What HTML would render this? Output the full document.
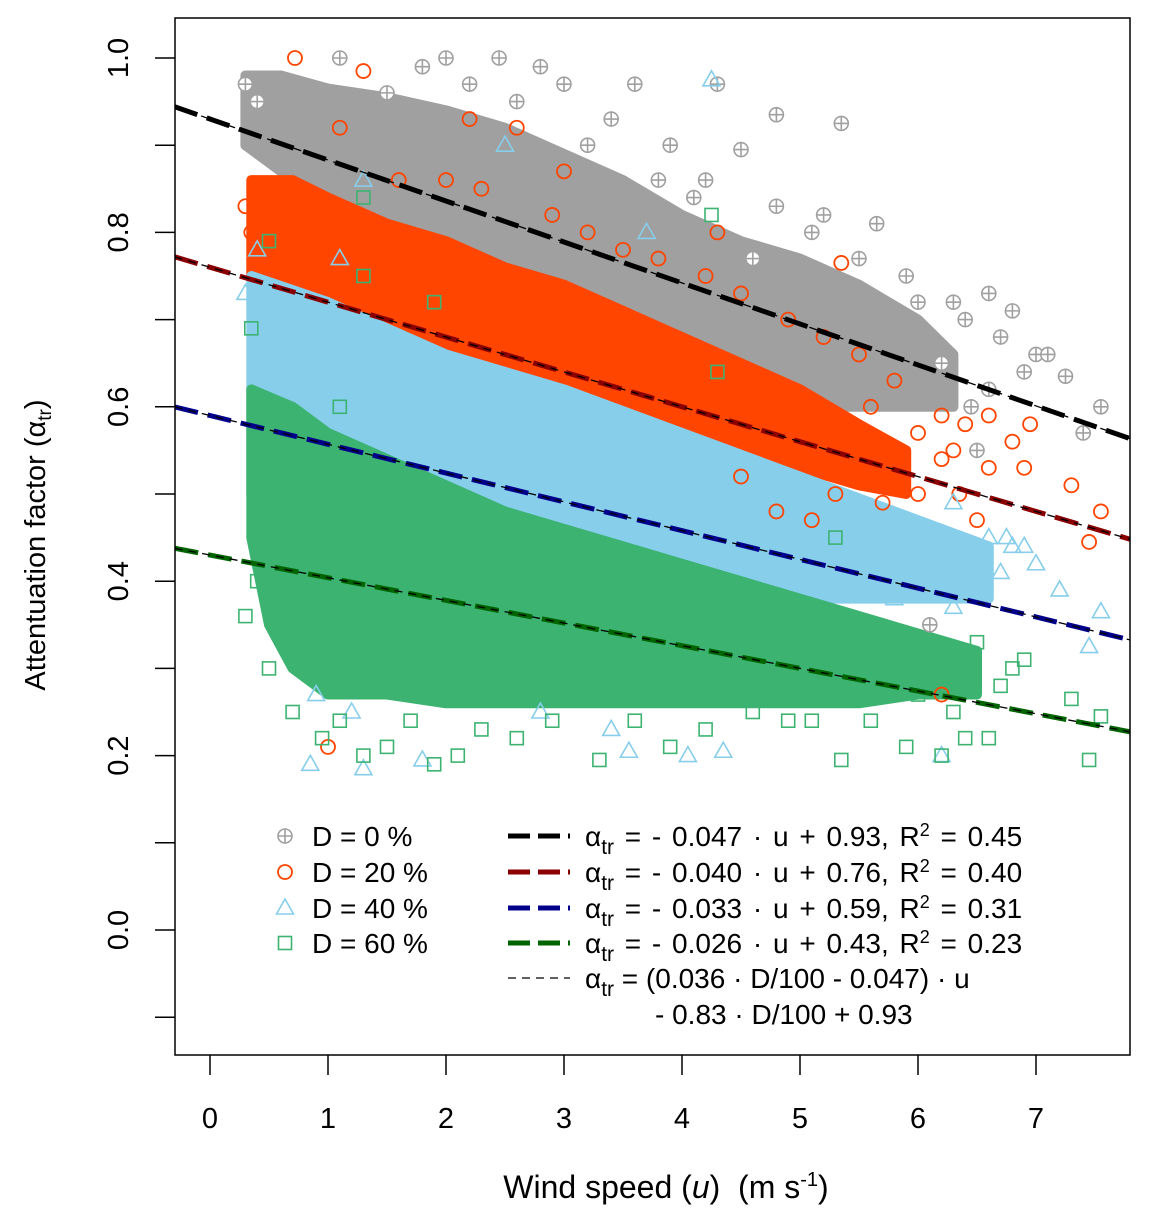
<!DOCTYPE html>
<html><head><meta charset="utf-8"><style>
body{margin:0;background:#fff}
svg{display:block;font-family:"Liberation Sans",Arial,sans-serif}
</style></head><body>
<svg id="chart" width="1150" height="1225" viewBox="0 0 1150 1225" xmlns="http://www.w3.org/2000/svg">
<defs><clipPath id="clip"><rect x="175" y="18" width="955" height="1037"/></clipPath></defs>
<g id="clouds" clip-path="url(#clip)"></g>
<g id="points" clip-path="url(#clip)"></g>
<g id="lines" clip-path="url(#clip)"></g>
<rect x="175" y="18" width="955" height="1037" fill="none" stroke="#000" stroke-width="1.5"/>
<g id="axes"></g>
<text transform="translate(45,545) rotate(-90)" text-anchor="middle" font-size="29">Attentuation factor (α<tspan font-size="19" dy="6">tr</tspan><tspan dy="-6">)</tspan></text>
<text x="666" y="1198" text-anchor="middle" font-size="32" xml:space="preserve">Wind speed (<tspan font-style="italic">u</tspan>)  (m s<tspan font-size="20" dy="-12">-1</tspan><tspan dy="12">)</tspan></text>
<g id="legend" font-size="28"></g>
</svg>
<script>
const xTicks=[0,1,2,3,4,5,6,7];
const yTicks=[0.0,0.2,0.4,0.6,0.8,1.0];
const yMinor=[-0.1,0.1,0.3,0.5,0.7,0.9];
const seriesNames=["D = 0 %","D = 20 %","D = 40 %","D = 60 %"];
const seriesColors=["#a0a0a0","#ff4500","#87ceeb","#3cb371"];
const slopes=[-0.047,-0.040,-0.033,-0.026];
const intercepts=[0.93,0.76,0.59,0.43];
const lineColors=["#000000","#8b0000","#00008b","#006400"];
const cloud0=[[0.3,0.98],[0.6,0.98],[1.0,0.965],[1.5,0.955],[2.0,0.94],[2.5,0.92],[3.0,0.89],[3.5,0.86],[4.0,0.82],[4.5,0.79],[5.0,0.77],[5.5,0.74],[6.0,0.7],[6.3,0.66],[6.3,0.6],[5.8,0.6],[5.3,0.6],[4.8,0.62],[4.3,0.64],[3.8,0.67],[3.3,0.7],[2.8,0.73],[2.3,0.76],[1.8,0.79],[1.3,0.82],[0.8,0.85],[0.5,0.88],[0.3,0.9]];
const cloud1=[[0.35,0.86],[0.7,0.86],[1.0,0.84],[1.5,0.81],[2,0.79],[2.5,0.76],[3,0.74],[3.5,0.71],[4,0.68],[4.5,0.65],[5,0.62],[5.5,0.58],[5.9,0.55],[5.9,0.5],[5.5,0.51],[5,0.53],[4.5,0.55],[4,0.56],[3.5,0.58],[3,0.6],[2.5,0.62],[2,0.64],[1.5,0.66],[1,0.68],[0.6,0.72],[0.35,0.75]];
const cloud2=[[0.35,0.75],[1,0.72],[2,0.66],[3,0.62],[4,0.57],[5,0.52],[6,0.47],[6.6,0.44],[6.6,0.38],[6,0.38],[5,0.38],[4,0.3],[3,0.28],[2,0.28],[1,0.28],[0.5,0.4],[0.35,0.5]];
const cloud3=[[0.35,0.62],[0.7,0.6],[1,0.57],[1.5,0.54],[2,0.51],[2.5,0.48],[3,0.46],[3.5,0.44],[4,0.42],[4.5,0.4],[5,0.38],[5.5,0.36],[6,0.34],[6.5,0.32],[6.5,0.27],[6,0.27],[5.5,0.26],[5,0.26],[4.5,0.26],[4,0.26],[3.5,0.26],[3,0.26],[2.5,0.26],[2,0.26],[1.5,0.27],[1,0.27],[0.7,0.3],[0.5,0.35],[0.35,0.45]];
const pts0=[[1.1,1.0],[1.8,0.99],[2.0,1.0],[2.45,1.0],[2.8,0.99],[3.0,0.97],[3.6,0.97],[4.3,0.97],[4.8,0.935],[5.35,0.925],[3.2,0.9],[4.5,0.895],[4.2,0.86],[5.2,0.82],[5.65,0.81],[5.9,0.75],[6.0,0.72],[6.3,0.72],[6.6,0.73],[6.8,0.71],[7.0,0.66],[7.25,0.635],[7.55,0.6],[7.4,0.57],[6.2,0.65],[6.5,0.55],[6.1,0.35],[3.8,0.86],[4.6,0.77],[1.5,0.96],[2.2,0.97],[2.6,0.95],[3.4,0.93],[3.9,0.9],[4.1,0.84],[4.8,0.83],[5.1,0.8],[5.5,0.77],[6.4,0.7],[6.7,0.68],[6.9,0.64],[6.6,0.62],[7.1,0.66],[6.45,0.6],[0.4,0.95],[0.3,0.97]];
const pts1=[[0.72,1.0],[1.3,0.985],[1.1,0.92],[2.2,0.93],[2.6,0.92],[2.0,0.86],[3.0,0.87],[4.3,0.8],[3.5,0.78],[4.5,0.73],[5.35,0.765],[5.5,0.66],[5.8,0.63],[6.2,0.59],[6.4,0.58],[6.6,0.59],[6.8,0.56],[6.9,0.53],[7.3,0.51],[7.55,0.48],[7.45,0.445],[6.2,0.54],[6.5,0.47],[5.4,0.52],[5.1,0.47],[0.3,0.83],[0.35,0.8],[6.0,0.5],[4.8,0.48],[6.2,0.27],[1.0,0.21],[1.6,0.86],[2.3,0.85],[2.9,0.82],[3.2,0.8],[3.8,0.77],[4.2,0.75],[4.9,0.7],[5.2,0.68],[5.6,0.6],[6.0,0.57],[6.3,0.55],[6.6,0.53],[6.95,0.58],[6.35,0.5],[5.7,0.49],[5.3,0.5],[4.5,0.52]];
const pts2=[[4.25,0.975],[0.4,0.78],[1.3,0.86],[2.5,0.9],[3.7,0.8],[1.1,0.77],[5.2,0.46],[6.2,0.45],[6.6,0.45],[6.75,0.45],[6.8,0.44],[7.2,0.39],[7.55,0.365],[7.45,0.325],[6.5,0.42],[6.0,0.4],[5.6,0.42],[0.3,0.73],[0.85,0.19],[1.3,0.185],[1.8,0.195],[2.8,0.25],[3.55,0.205],[4.05,0.2],[4.35,0.205],[6.2,0.2],[6.9,0.44],[6.3,0.49],[6.1,0.43],[6.4,0.4],[6.7,0.41],[7.0,0.42],[5.8,0.38],[6.3,0.37],[5.5,0.47],[0.9,0.27],[1.2,0.25],[3.4,0.23]];
const pts3=[[1.3,0.84],[4.25,0.82],[0.5,0.79],[1.9,0.72],[1.3,0.75],[4.3,0.64],[0.35,0.69],[1.3,0.2],[1.5,0.21],[1.9,0.19],[2.1,0.2],[2.6,0.22],[3.3,0.195],[3.9,0.21],[5.35,0.195],[5.9,0.21],[6.2,0.2],[6.4,0.22],[6.6,0.22],[6.9,0.31],[7.3,0.265],[7.55,0.245],[7.45,0.195],[6.5,0.33],[5.3,0.45],[0.3,0.36],[0.6,0.45],[0.9,0.57],[4.9,0.24],[6.0,0.27],[0.7,0.25],[0.95,0.22],[1.1,0.24],[1.7,0.24],[2.3,0.23],[2.9,0.24],[3.6,0.24],[4.2,0.23],[4.6,0.25],[5.1,0.24],[5.6,0.24],[6.3,0.25],[6.7,0.28],[6.8,0.3],[0.5,0.3],[0.4,0.4],[1.1,0.6]];
const clouds=[cloud0,cloud1,cloud2,cloud3];
const pointSets=[pts0,pts1,pts2,pts3];
const NS="http://www.w3.org/2000/svg";
const X=v=>210+v*118, Y=v=>930-v*872;
const xmin=-0.3,xmax=7.8;
function mk(t,a,p){const e=document.createElementNS(NS,t);for(const k in a)e.setAttribute(k,a[k]);p.appendChild(e);return e;}
const gC=document.getElementById('clouds'),gP=document.getElementById('points'),gL=document.getElementById('lines'),gA=document.getElementById('axes'),gG=document.getElementById('legend');
function marker(s,x,y,par){
  const c=seriesColors[s];let e;
  if(s===0){e=mk('g',{},par);mk('circle',{cx:x,cy:y,r:7,fill:'#fff',stroke:c,'stroke-width':1.6},e);mk('path',{d:`M${x-7} ${y}H${x+7}M${x} ${y-7}V${y+7}`,stroke:c,'stroke-width':1.6},e);}
  else if(s===1){e=mk('circle',{cx:x,cy:y,r:7,fill:'none',stroke:c,'stroke-width':1.8},par);}
  else if(s===2){e=mk('path',{d:`M${x} ${y-9}L${x+8.5} ${y+6}L${x-8.5} ${y+6}Z`,fill:'none',stroke:c,'stroke-width':1.6},par);}
  else {e=mk('rect',{x:x-6.5,y:y-6.5,width:13,height:13,fill:'none',stroke:c,'stroke-width':1.6},par);}
  return e;
}
for(let s=0;s<4;s++){
  const poly=mk('polygon',{points:clouds[s].map(p=>X(p[0])+','+Y(p[1])).join(' '),fill:seriesColors[s],stroke:seriesColors[s],'stroke-width':10,'stroke-linejoin':'round'},gC);
  
  
  pointSets[s].forEach(p=>{const m=marker(s,X(p[0]),Y(p[1]),gP);
    
    });
}
for(let s=0;s<4;s++){
  const y1=slopes[s]*xmin+intercepts[s],y2=slopes[s]*xmax+intercepts[s];
  const l=mk('line',{x1:X(xmin),y1:Y(y1),x2:X(xmax),y2:Y(y2),stroke:lineColors[s],'stroke-width':5,'stroke-dasharray':'24 10'},gL);
  
  
  const g=mk('line',{x1:X(xmin),y1:Y(y1),x2:X(xmax),y2:Y(y2),stroke:'#000','stroke-width':1.3,'stroke-dasharray':'8 6'},gL);
  
  
}
xTicks.forEach(v=>{mk('line',{x1:X(v),y1:1055,x2:X(v),y2:1075,stroke:'#000','stroke-width':1.5},gA);
  const t=mk('text',{x:X(v),y:1128,'text-anchor':'middle','font-size':29},gA);t.textContent=v;
  
  });
yTicks.forEach(v=>{mk('line',{x1:155,y1:Y(v),x2:175,y2:Y(v),stroke:'#000','stroke-width':1.5},gA);
  const t=mk('text',{transform:`translate(128,${Y(v)}) rotate(-90)`,'text-anchor':'middle','font-size':29},gA);t.textContent=v.toFixed(1);
  
  });
yMinor.forEach(v=>mk('line',{x1:155,y1:Y(v),x2:175,y2:Y(v),stroke:'#000','stroke-width':1.5},gA));
const legY=[836,872,908,943];
const eqTexts=["- 0.047 · u + 0.93,  R","- 0.040 · u + 0.76,  R","- 0.033 · u + 0.59,  R","- 0.026 · u + 0.43,  R"];
const r2=["0.45","0.40","0.31","0.23"];
for(let s=0;s<4;s++){
  const m=marker(s,285,legY[s],gG);
  
  
  const t=mk('text',{x:312,y:legY[s]+10},gG);t.textContent=seriesNames[s];
  
  
  mk('line',{x1:508,y1:legY[s],x2:570,y2:legY[s],stroke:lineColors[s],'stroke-width':5,'stroke-dasharray':'22 8'},gG);
  const e=mk('text',{x:585,y:legY[s]+10,'xml:space':'preserve','word-spacing':3},gG);
  e.innerHTML=`α<tspan font-size="21" dy="8">tr</tspan><tspan dy="-8"> = ${eqTexts[s]}</tspan><tspan font-size="18" dy="-10">2</tspan><tspan dy="10"> = ${r2[s]}</tspan>`;
  
  
}
mk('line',{x1:508,y1:978,x2:570,y2:978,stroke:'#000','stroke-width':1.3,'stroke-dasharray':'8 6'},gG);
const e5=mk('text',{x:585,y:988},gG);
e5.innerHTML='α<tspan font-size="21" dy="8">tr</tspan><tspan dy="-8"> = (0.036 · D/100 - 0.047) · u</tspan>';


const e6=mk('text',{x:655,y:1024},gG);e6.textContent='- 0.83 · D/100 + 0.93';


</script>
</body></html>
